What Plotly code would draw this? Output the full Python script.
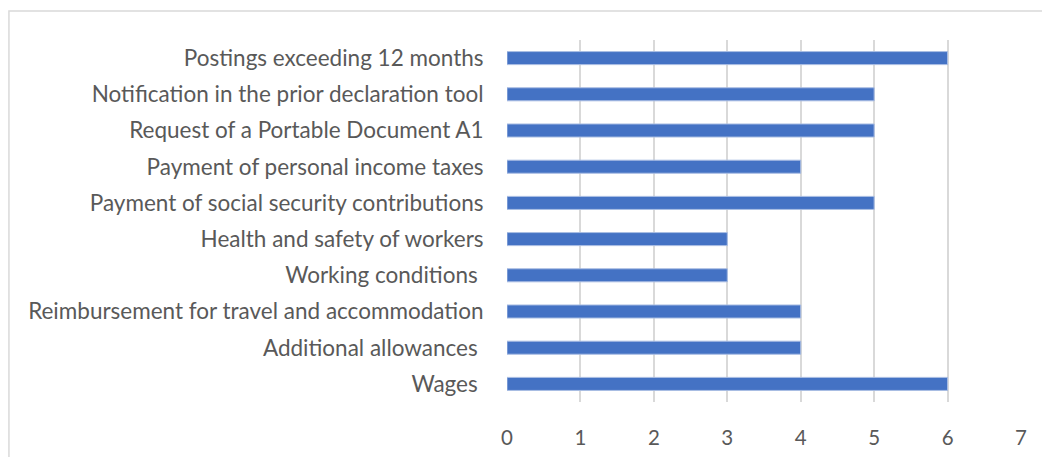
import plotly.graph_objects as go

# Issues listed from top to bottom of the chart
categories = [
    "Postings exceeding 12 months",
    "Notification in the prior declaration tool",
    "Request of a Portable Document A1",
    "Payment of personal income taxes",
    "Payment of social security contributions",
    "Health and safety of workers",
    "Working conditions\u00a0",
    "Reimbursement for travel and accommodation",
    "Additional allowances\u00a0",
    "Wages\u00a0",
]
counts = [6, 5, 5, 4, 5, 3, 3, 4, 4, 6]
x_ticks = [0, 1, 2, 3, 4, 5, 6, 7]

fig = go.Figure(
    go.Bar(
        x=counts,
        y=categories,
        orientation="h",
        marker=dict(color="#4472C4", line=dict(color="#a9bde3", width=1)),
        width=0.36,
    )
)

fig.update_layout(
    width=1042,
    height=457,
    margin=dict(l=507, r=21, t=40, b=55),
    paper_bgcolor="white",
    plot_bgcolor="white",
    font=dict(family="Lato", size=22.5, color="#595959"),
    showlegend=False,
    shapes=[
        dict(
            type="rect", xref="paper", yref="paper",
            x0=-0.969, x1=1.2, y0=-0.3, y1=1.080,
            line=dict(color="#d9d9d9", width=1.5),
            fillcolor="rgba(0,0,0,0)", layer="below",
        )
    ],
)

fig.update_xaxes(
    range=[0, 7],
    tickvals=x_ticks,
    tickfont=dict(size=20.5),
    showgrid=True,
    gridcolor="#d9d9d9",
    gridwidth=1.5,
    zeroline=False,
    showline=False,
    ticks="outside",
    ticklen=17,
    tickcolor="rgba(0,0,0,0)",
    automargin=False,
)
fig.update_yaxes(
    autorange="reversed",
    showgrid=False,
    zeroline=False,
    showline=False,
    ticks="outside",
    ticklen=18,
    tickcolor="rgba(0,0,0,0)",
    automargin=False,
)

fig.write_html("out.html")
